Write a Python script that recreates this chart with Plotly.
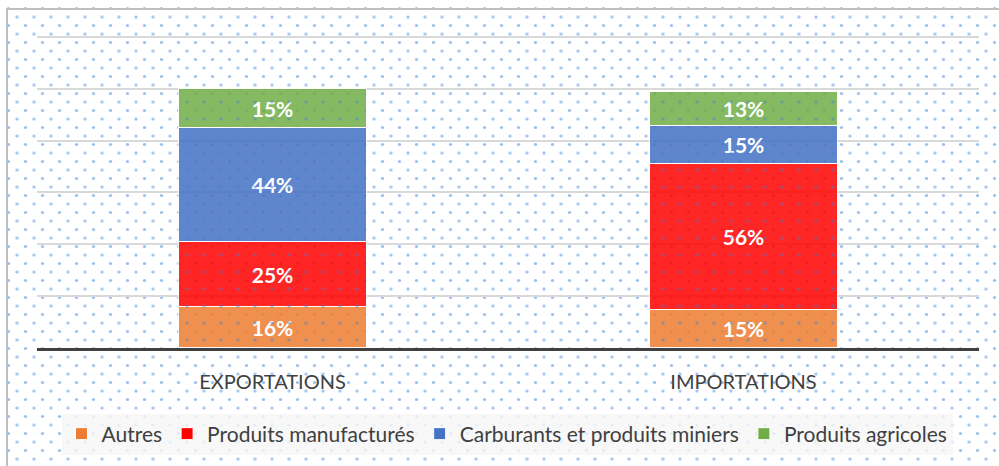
import plotly.graph_objects as go

W, H = 999, 466

categories = ["EXPORTATIONS", "IMPORTATIONS"]
series_names = ["Autres", "Produits manufacturés", "Carburants et produits miniers", "Produits agricoles"]
autres = [16, 15]
manufactures = [25, 56]
carburants = [44, 15]
agricoles = [15, 13]
series_values = [autres, manufactures, carburants, agricoles]
colors = ["#ED7D31", "#FF0000", "#4472C4", "#70AD47"]

# plot area in pixels (the dotted background fills the whole page, so margins are 0)
# y=0 sits at 348px and y=120 at 37px; the range runs to 121 so the top grid line is kept
PL, PR, PB = 37, 979, 348
Y_TOP = 121
PT = PB - Y_TOP * (PB - 37) / 120
DOT = 17  # dot pitch of the background

fig = go.Figure()

# dotted page background: two square grids offset by half a pitch -> staggered dots
for xa, ya, bg in [("x", "y", "white"), ("x3", "y3", "rgba(0,0,0,0)")]:
    fig.add_trace(go.Scatter(
        x=[0, 1, 1, 0, 0], y=[0, 0, 1, 1, 0],
        mode="lines", fill="toself", line=dict(width=0),
        fillcolor=bg,
        fillpattern=dict(shape=".", fgcolor="#3580D4", bgcolor=bg, size=DOT, solidity=0.028),
        hoverinfo="skip", showlegend=False,
        xaxis=xa, yaxis=ya,
    ))

for name, vals, col in zip(series_names, series_values, colors):
    fig.add_trace(go.Bar(
        x=categories, y=vals, name=name,
        marker=dict(color=col, opacity=0.85, line=dict(color="white", width=1)),
        text=vals, texttemplate="%{text}%", textposition="inside",
        insidetextanchor="middle", textangle=0,
        textfont=dict(color="white", size=21, family="Lato", weight="bold"),
        xaxis="x2", yaxis="y2",
    ))

fig.add_shape(
    type="rect", xref="paper", yref="paper",
    x0=7 / W, x1=1.05, y0=-0.1, y1=1 - 9 / H,
    line=dict(color="#BFBFBF", width=2), layer="above",
)

half = DOT / 2
hidden = dict(range=[0, 1], visible=False, fixedrange=True)
fig.update_layout(
    width=W, height=H,
    margin=dict(l=0, r=0, t=0, b=0, autoexpand=False),
    paper_bgcolor="white", plot_bgcolor="rgba(0,0,0,0)",
    barmode="stack", bargap=0.6,
    font=dict(family="Lato", color="#404040"),
    xaxis=dict(domain=[0, 1], **hidden),
    yaxis=dict(domain=[0, 1], **hidden),
    xaxis3=dict(domain=[half / W, 1], anchor="y3", **hidden),
    yaxis3=dict(domain=[0, 1 - half / H], anchor="x3", **hidden),
    xaxis2=dict(
        domain=[PL / W, PR / W], anchor="y2",
        showline=True, linecolor="#404040", linewidth=3,
        showgrid=False, ticks="", ticklabelstandoff=14,
        tickfont=dict(size=20, color="#404040"),
    ),
    yaxis2=dict(
        domain=[(H - PB) / H, 1 - PT / H], anchor="x2",
        range=[0, Y_TOP], tick0=0, dtick=20, showticklabels=False,
        showgrid=True, gridcolor="#D9D9D9", gridwidth=1.5, zeroline=False,
    ),
    legend=dict(
        orientation="h", traceorder="normal",
        x=507 / W, xanchor="center", y=(H - 434) / H, yanchor="middle",
        bgcolor="rgba(246,246,246,0.8)", font=dict(size=21, color="#404040"),
        itemwidth=30,
    ),
    showlegend=True,
)

# the page body has a default 8px margin; drop it so the figure fills the window
fig.write_html(
    "out.html",
    config={"displayModeBar": False},
    post_script="document.body.style.margin = '0';",
)
